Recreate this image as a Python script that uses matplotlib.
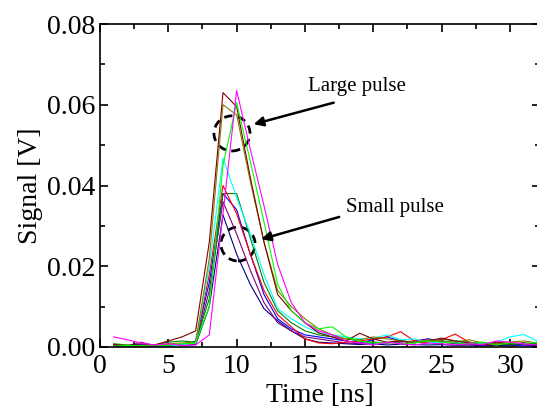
import numpy as np
import matplotlib
matplotlib.use("Agg")
import matplotlib.pyplot as plt
from matplotlib.patches import Ellipse
from matplotlib.ticker import MultipleLocator, FormatStrFormatter

plt.rcParams['font.family'] = ['Liberation Serif', 'DejaVu Serif']

# time axis in ns, one sample per ns
t = np.arange(1, 33)

# signal traces [V]
magenta = [0.0025, 0.0018, 0.0010, 0.0005, 0.0008, 0.0004, 0.0005, 0.0030, 0.0330, 0.0635, 0.0490, 0.0350, 0.0205, 0.0110, 0.0060, 0.0040,
           0.0030, 0.0015, 0.0010, 0.0005, 0.0012, 0.0008, 0.0005, 0.0010, 0.0008, 0.0005, 0.0008, 0.0006, 0.0015, 0.0012, 0.0008, 0.0005]
maroon = [0.0005, 0.0003, 0.0008, 0.0005, 0.0015, 0.0025, 0.0040, 0.0260, 0.0630, 0.0595, 0.0420, 0.0260, 0.0130, 0.0090, 0.0060, 0.0035,
          0.0025, 0.0015, 0.0034, 0.0020, 0.0012, 0.0015, 0.0010, 0.0015, 0.0022, 0.0015, 0.0010, 0.0005, 0.0012, 0.0008, 0.0010, 0.0005]
olive = [0.0003, 0.0005, 0.0002, 0.0006, 0.0008, 0.0010, 0.0012, 0.0220, 0.0600, 0.0575, 0.0410, 0.0260, 0.0140, 0.0100, 0.0070, 0.0045,
         0.0030, 0.0020, 0.0018, 0.0025, 0.0020, 0.0015, 0.0012, 0.0018, 0.0015, 0.0012, 0.0018, 0.0010, 0.0008, 0.0012, 0.0015, 0.0010]
lime = [0.0002, 0.0004, 0.0003, 0.0002, 0.0005, 0.0008, 0.0010, 0.0100, 0.0450, 0.0605, 0.0460, 0.0310, 0.0155, 0.0090, 0.0060, 0.0045,
        0.0050, 0.0025, 0.0015, 0.0010, 0.0012, 0.0008, 0.0010, 0.0015, 0.0012, 0.0010, 0.0008, 0.0012, 0.0005, 0.0010, 0.0008, 0.0012]
cyan = [0.0003, 0.0002, 0.0004, 0.0003, 0.0002, 0.0005, 0.0010, 0.0200, 0.0468, 0.0370, 0.0280, 0.0180, 0.0095, 0.0070, 0.0050, 0.0035,
        0.0030, 0.0025, 0.0020, 0.0022, 0.0030, 0.0018, 0.0020, 0.0012, 0.0010, 0.0015, 0.0010, 0.0008, 0.0012, 0.0025, 0.0031, 0.0015]
red = [0.0005, 0.0003, 0.0002, 0.0004, 0.0006, 0.0005, 0.0010, 0.0180, 0.0400, 0.0330, 0.0230, 0.0140, 0.0080, 0.0050, 0.0020, 0.0010,
       0.0008, 0.0012, 0.0015, 0.0020, 0.0025, 0.0038, 0.0015, 0.0010, 0.0018, 0.0032, 0.0012, 0.0008, 0.0005, 0.0010, 0.0008, 0.0005]
green = [0.0008, 0.0005, 0.0003, 0.0005, 0.0012, 0.0015, 0.0012, 0.0120, 0.0380, 0.0380, 0.0270, 0.0160, 0.0090, 0.0060, 0.0040, 0.0030,
         0.0025, 0.0020, 0.0015, 0.0012, 0.0010, 0.0015, 0.0012, 0.0010, 0.0020, 0.0015, 0.0012, 0.0008, 0.0010, 0.0005, 0.0010, 0.0008]
blue = [0.0006, 0.0004, 0.0006, 0.0003, 0.0005, 0.0004, 0.0015, 0.0160, 0.0380, 0.0340, 0.0230, 0.0130, 0.0070, 0.0045, 0.0030, 0.0025,
        0.0020, 0.0015, 0.0010, 0.0018, 0.0025, 0.0015, 0.0012, 0.0020, 0.0015, 0.0010, 0.0008, 0.0005, 0.0008, 0.0006, 0.0005, 0.0004]
purple = [0.0004, 0.0003, 0.0012, 0.0003, 0.0004, 0.0006, 0.0008, 0.0140, 0.0360, 0.0280, 0.0190, 0.0110, 0.0060, 0.0040, 0.0025, 0.0020,
          0.0015, 0.0010, 0.0008, 0.0012, 0.0010, 0.0012, 0.0015, 0.0020, 0.0012, 0.0008, 0.0005, 0.0006, 0.0008, 0.0005, 0.0006, 0.0004]
navy = [0.0003, 0.0002, 0.0003, 0.0002, 0.0003, 0.0004, 0.0006, 0.0100, 0.0327, 0.0230, 0.0155, 0.0095, 0.0065, 0.0040, 0.0020, 0.0012,
        0.0010, 0.0008, 0.0006, 0.0008, 0.0005, 0.0007, 0.0006, 0.0005, 0.0006, 0.0004, 0.0005, 0.0003, 0.0004, 0.0003, 0.0005, 0.0004]

traces = [(navy, '#000080'), (purple, '#800080'), (blue, '#0000FF'), (green, '#008000'),
          (red, '#FF0000'), (cyan, '#00FFFF'), (olive, '#808000'), (maroon, '#800000'),
          (lime, '#00FF00'), (magenta, '#FF00FF')]

fig = plt.figure(figsize=(5.37, 4.07), dpi=100)
# axes runs a little past the right edge so the right frame line is cut off
ax = fig.add_axes([100/537, 60/407, 440/537, 323/407])

for y, c in traces:
    ax.plot(t, y, color=c, lw=0.8)

ax.set_xlim(0, 32.2)
ax.set_ylim(0, 0.08)
ax.xaxis.set_major_locator(MultipleLocator(5))
ax.xaxis.set_minor_locator(MultipleLocator(2.5))
ax.yaxis.set_major_locator(MultipleLocator(0.02))
ax.yaxis.set_minor_locator(MultipleLocator(0.01))
ax.yaxis.set_major_formatter(FormatStrFormatter('%.2f'))
ax.tick_params(which='both', direction='in', top=True, right=True, labelsize=20, width=1.2)
ax.tick_params(axis='x', pad=5)
ax.tick_params(which='major', length=6)
ax.tick_params(which='minor', length=3.5)
for s in ax.spines.values():
    s.set_linewidth(1.2)

ax.set_xlabel('Time [ns]', fontsize=20, labelpad=3)
ax.set_ylabel('Signal [V]', fontsize=20, labelpad=3)

# dashed circles marking the two pulse groups
ax.add_patch(Ellipse((9.66, 0.0529), 2.64, 0.0087, fill=False, ls=(0, (3, 2)), lw=2, color='k'))
ax.add_patch(Ellipse((10.1, 0.0255), 2.5, 0.0084, fill=False, ls=(0, (3, 2)), lw=2, color='k'))

ax.annotate('', xy=(11.05, 0.055), xytext=(17.3, 0.0607),
            arrowprops=dict(arrowstyle='-|>', lw=1.8, color='k', mutation_scale=14))
ax.annotate('', xy=(11.6, 0.0265), xytext=(17.7, 0.0324),
            arrowprops=dict(arrowstyle='-|>', lw=1.8, color='k', mutation_scale=14))
ax.text(15.2, 0.0646, 'Large pulse', fontsize=15, va='center', ha='left')
ax.text(18.0, 0.0346, 'Small pulse', fontsize=15, va='center', ha='left')

fig.savefig('out.png', dpi=100)
